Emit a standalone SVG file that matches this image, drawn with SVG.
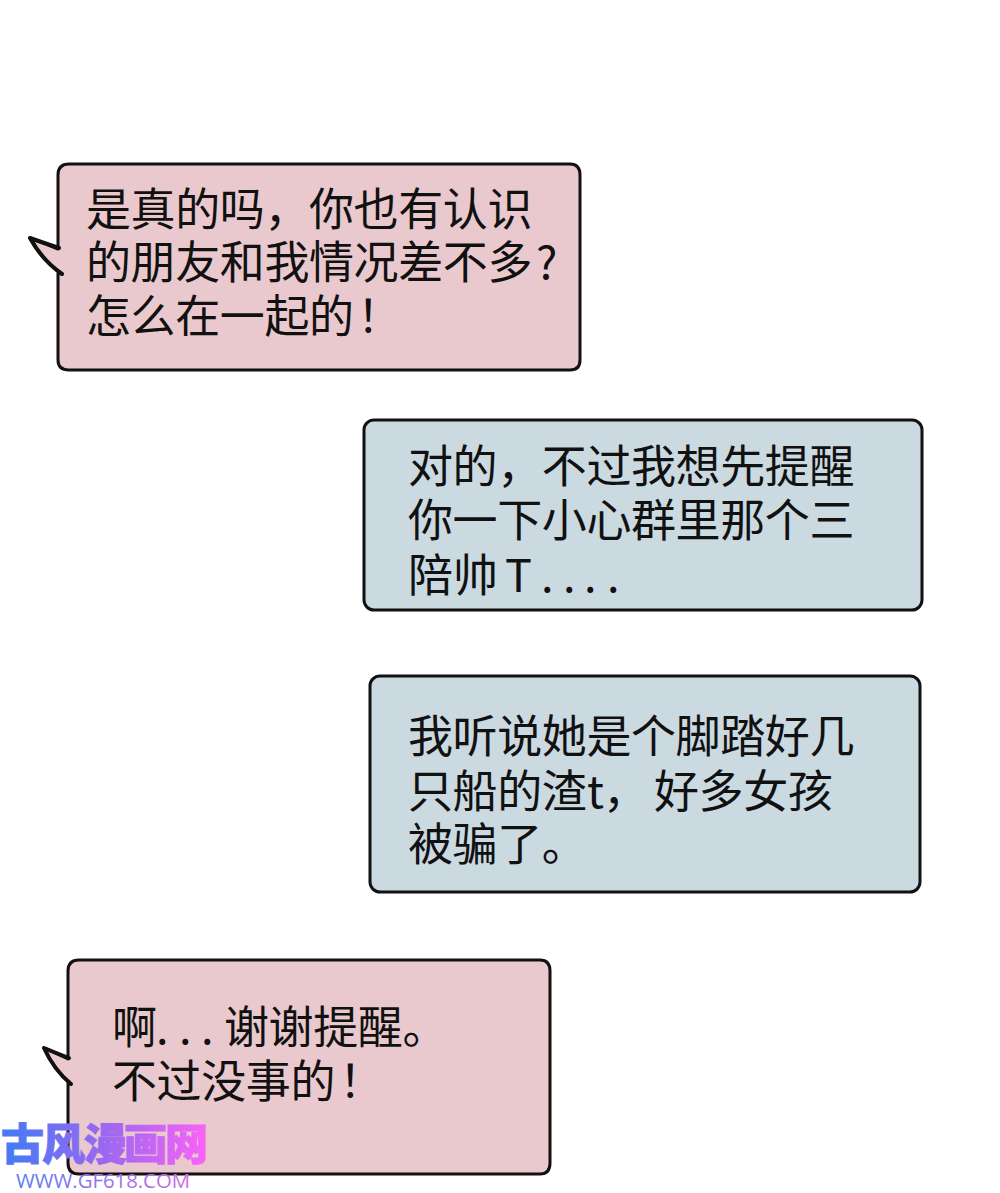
<svg xmlns="http://www.w3.org/2000/svg" width="1000" height="1193" viewBox="0 0 1000 1193">
<defs>
<linearGradient id="wm" gradientUnits="userSpaceOnUse" x1="0" y1="0" x2="208" y2="0"><stop offset="0" stop-color="#3f7cf5"/><stop offset="0.5" stop-color="#9a68f0"/><stop offset="1" stop-color="#fb62f8"/></linearGradient>
<linearGradient id="wm2" gradientUnits="userSpaceOnUse" x1="16" y1="0" x2="190" y2="0"><stop offset="0" stop-color="#5c7cf0"/><stop offset="1" stop-color="#d068e8"/></linearGradient>
</defs>
<style>
.b{stroke:#111;stroke-width:3;stroke-linejoin:round}
.p{fill:#e9c9cd}
.c{fill:#cbd9e1}
.s{fill:none;stroke:#111;stroke-width:4;stroke-linecap:round;stroke-linejoin:round}
.t{font-family:"Noto Sans CJK SC","Noto Sans",sans-serif;font-size:45px;fill:#111}
</style>
<rect width="1000" height="1193" fill="#fff"/>
<g id="bubble1">
<path class="b p" d="M58 175Q58 164 69 164H570Q580 164 580 175V360Q580 370 570 370H69Q58 370 58 360V273L62 274Q42 260 30 238Q44 243 58 249Z"/>
<path class="s" d="M59 248Q44 243 30 238Q42 260 62 274"/>
<text class="t" y="226" x="86 130.600 175.200 219.800 264.400 309 353.600 398.200 442.800 487.400">是真的吗，你也有认识</text>
<text class="t" y="279" x="86 130.600 175.200 219.800 264.400 309 353.600 398.200 442.800 487.400 536">的朋友和我情况差不多?</text>
<text class="t" y="333" x="86 130.600 175.200 219.800 264.400 309 357">怎么在一起的！</text>
</g>
<g id="bubble2">
<rect class="b c" x="364" y="420" width="558" height="190" rx="10"/>
<text class="t" y="483" x="408 452.600 497.200 541.800 586.400 631 675.600 720.200 764.800 809.400">对的，不过我想先提醒</text>
<text class="t" y="537" x="408 452.600 497.200 541.800 586.400 631 675.600 720.200 764.800 809.400">你一下小心群里那个三</text>
<text class="t" y="592" x="408 453 505 541 563 584 607">陪帅T....</text>
</g>
<g id="bubble3">
<rect class="b c" x="370" y="676" width="550" height="216" rx="10"/>
<text class="t" y="753" x="408 452.600 497.200 541.800 586.400 631 675.600 720.200 764.800 809.400">我听说她是个脚踏好几</text>
<text class="t" y="808" x="408 452.600 497.200 541.800 587 603 654 698.600 743.200 787.800">只船的渣t，好多女孩</text>
<text class="t" y="861" x="408 452.600 497.200 541.800">被骗了。</text>
</g>
<g id="bubble4">
<path class="b p" d="M68 971Q68 960 79 960H540Q550 960 550 971V1163Q550 1174 540 1174H79Q68 1174 68 1163V1083L71 1084Q54 1070 44 1048Q56 1053 68 1059Z"/>
<path class="s" d="M69 1058Q56 1053 44 1048Q54 1070 71 1084"/>
<text class="t" y="1044" x="112 156 179 201 224 268.600 313.200 357.800 402.400">啊...谢谢提醒。</text>
<text class="t" y="1098" x="112 156.600 201.200 245.800 290.400 339">不过没事的！</text>
</g>
<g id="watermark">
<text y="1160" x="1 42 84 124 165" font-family="Noto Sans CJK SC,sans-serif" font-weight="900" font-size="43" fill="url(#wm)" stroke="url(#wm)" stroke-width="1">古风漫画网</text>
<text x="16" y="1188" textLength="174" lengthAdjust="spacingAndGlyphs" font-family="Open Sans,sans-serif" font-size="20" fill="url(#wm2)">WWW.GF618.COM</text>
</g>
</svg>
